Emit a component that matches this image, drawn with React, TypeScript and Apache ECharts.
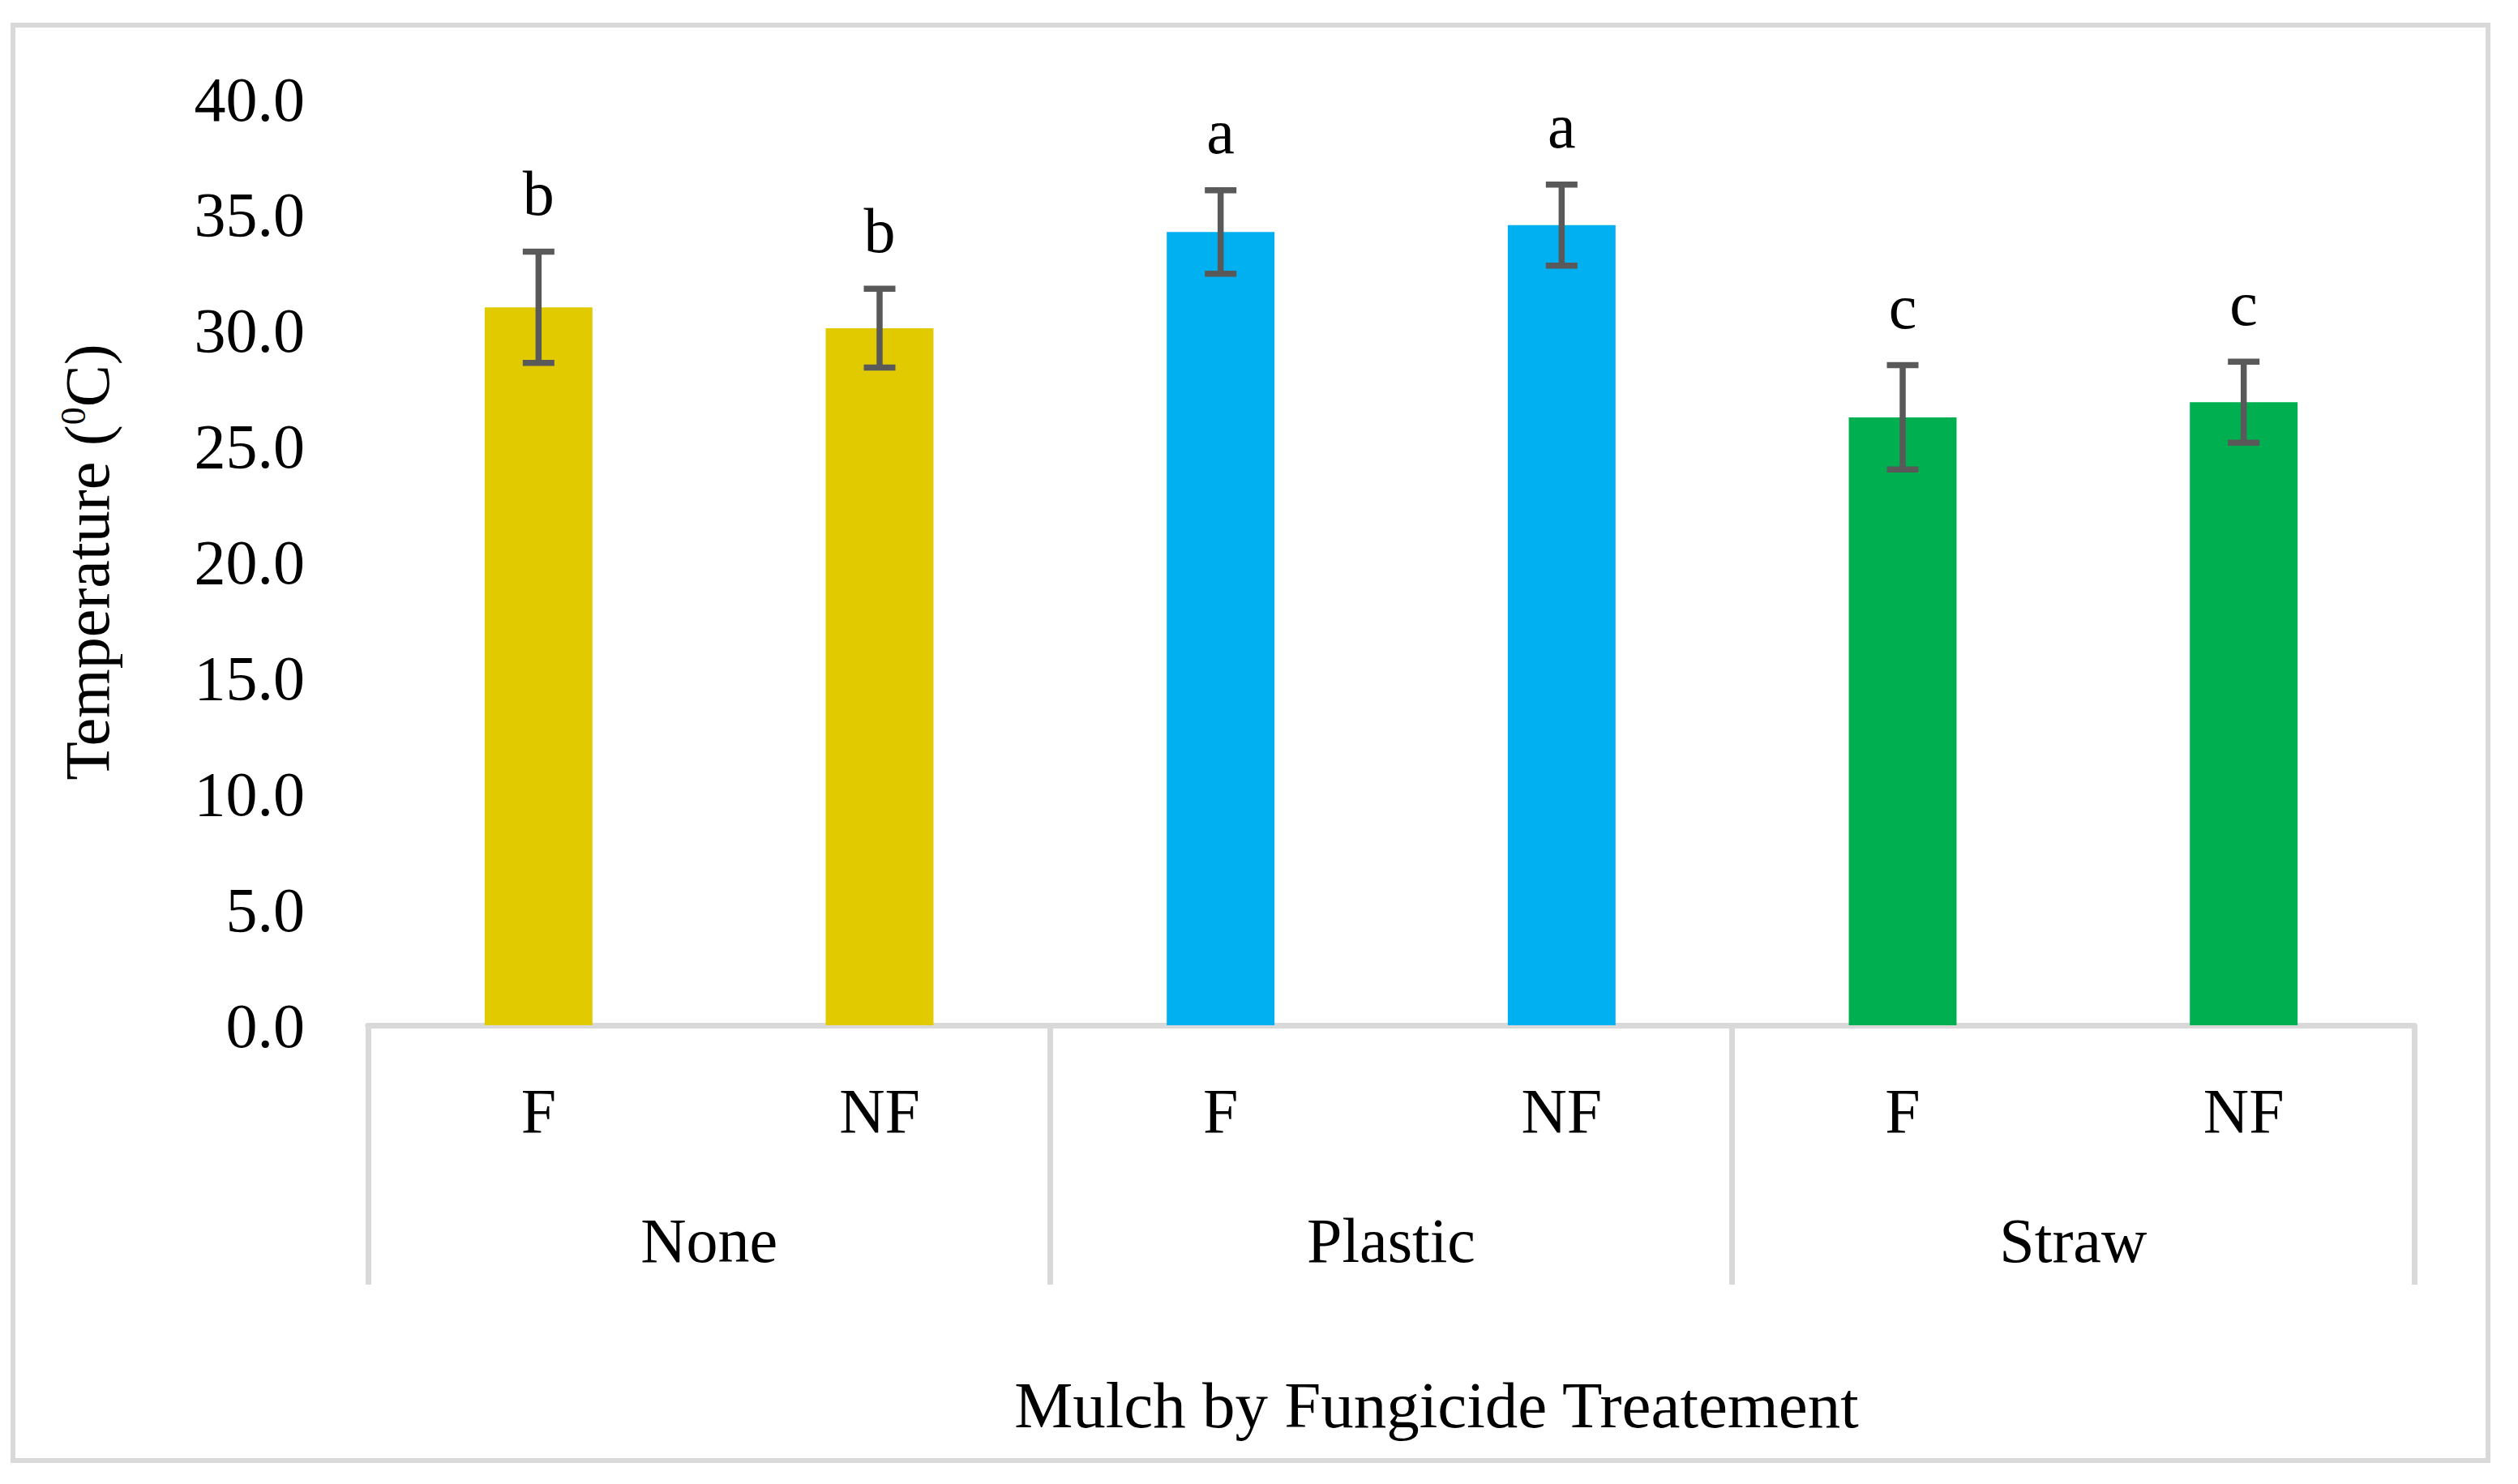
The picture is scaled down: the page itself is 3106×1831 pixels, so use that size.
import React, { useEffect, useRef } from "react";
import * as echarts from "echarts";

const categories = ["F", "NF", "F", "NF", "F", "NF"];
const groups = ["None", "Plastic", "Straw"];
const means = [31.0, 30.1, 34.25, 34.55, 26.25, 26.9];
const errors = [2.4, 1.7, 1.8, 1.75, 2.25, 1.75];
const letters = ["b", "b", "a", "a", "c", "c"];
const groupColors = ["#E1CB00", "#00B0F0", "#00B050"];
const yMin = 0;
const yMax = 40;
const yInterval = 5;
const yTitle = "Temperature ({sup|0}C)";
const xTitle = "Mulch by Fungicide Treatement";

const FONT = '"Liberation Serif", "Times New Roman", serif';
const FS = 78;
const GRAY = "#D9D9D9";
const ERR = "#595959";

export default function App() {
  const ref = useRef<HTMLDivElement>(null);
  useEffect(() => {
    if (!ref.current) return;
    const chart = echarts.init(ref.current, null, { renderer: "svg" });
    const option: any = {
      animation: false,
      backgroundColor: "#fff",
      grid: { left: 454, right: 128, top: 122, bottom: 566, containLabel: false },
      xAxis: [
        {
          type: "category",
          data: categories,
          position: "bottom",
          axisLine: { show: true, lineStyle: { color: GRAY, width: 7 } },
          axisTick: { show: false },
          axisLabel: { margin: 66, fontFamily: FONT, fontSize: FS, color: "#000" },
        },
        {
          type: "category",
          data: groups,
          position: "bottom",
          axisLine: { show: true, lineStyle: { color: GRAY, width: 7 } },
          axisTick: { show: true, interval: 0, length: 320, lineStyle: { color: GRAY, width: 7 } },
          axisLabel: { margin: 226, interval: 0, fontFamily: FONT, fontSize: FS, color: "#000" },
        },
      ],
      yAxis: {
        type: "value",
        min: yMin,
        max: yMax,
        interval: yInterval,
        axisLine: { show: false },
        axisTick: { show: false },
        splitLine: { show: false },
        axisLabel: {
          margin: 78,
          fontFamily: FONT,
          fontSize: FS,
          color: "#000",
          formatter: (v: number) => v.toFixed(1),
        },
        name: yTitle,
        nameLocation: "middle",
        nameGap: 308,
        nameTextStyle: {
          fontFamily: FONT,
          fontSize: FS,
          color: "#000",
          rich: {
            sup: { fontFamily: FONT, fontSize: 44, color: "#000", verticalAlign: "top" },
          },
        },
      },
      graphic: [
        {
          type: "rect",
          shape: { x: 16, y: 31, width: 3053, height: 1771 },
          style: { fill: "none", stroke: GRAY, lineWidth: 6 },
          silent: true,
        },
        {
          type: "text",
          x: 1772,
          y: 1734,
          style: {
            text: xTitle,
            fontFamily: FONT,
            fontSize: 81,
            fill: "#000",
            align: "center",
            verticalAlign: "middle",
          },
        },
      ],
      series: [
        {
          type: "bar",
          xAxisIndex: 0,
          barWidth: "31.6%",
          z: 2,
          data: means.map((v, i) => ({
            value: v,
            itemStyle: { color: groupColors[Math.floor(i / 2)] },
          })),
        },
        {
          type: "custom",
          xAxisIndex: 0,
          z: 10,
          encode: { x: 0, y: [1, 2] },
          data: means.map((m, i) => [i, m - errors[i], m + errors[i]]),
          renderItem: (params: any, api: any) => {
            const i = api.value(0);
            const top = api.coord([i, api.value(2)]);
            const bot = api.coord([i, api.value(1)]);
            const hw = 19.5;
            const ls = { stroke: ERR, lineWidth: 7.5 };
            return {
              type: "group",
              children: [
                { type: "line", z2: 10, shape: { x1: top[0], y1: top[1], x2: bot[0], y2: bot[1] }, style: ls },
                { type: "line", z2: 10, shape: { x1: top[0] - hw, y1: top[1], x2: top[0] + hw, y2: top[1] }, style: ls },
                { type: "line", z2: 10, shape: { x1: bot[0] - hw, y1: bot[1], x2: bot[0] + hw, y2: bot[1] }, style: ls },
                {
                  type: "text",
                  style: {
                    text: letters[params.dataIndex],
                    x: top[0],
                    y: top[1] - 33,
                    align: "center",
                    verticalAlign: "bottom",
                    fontFamily: FONT,
                    fontSize: FS,
                    fill: "#000",
                  },
                },
              ],
            };
          },
        },
      ],
    };
    chart.setOption(option);
    return () => chart.dispose();
  }, []);
  return (
    <div
      ref={ref}
      style={{ position: "absolute", left: 0, top: 0, width: 3106, height: 1831, background: "#fff" }}
    />
  );
}
